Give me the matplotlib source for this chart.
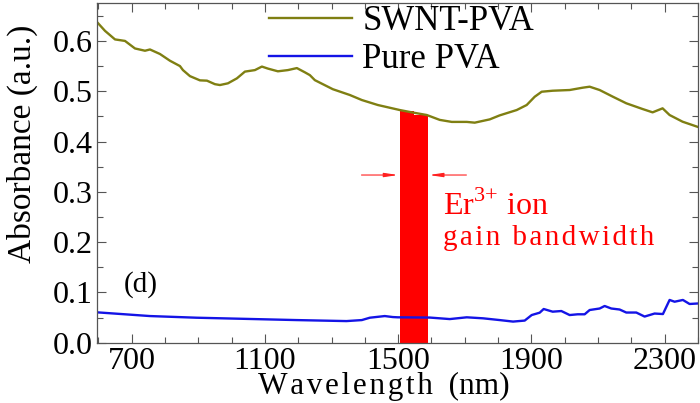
import numpy as np
import matplotlib
matplotlib.use('Agg')
import matplotlib.pyplot as plt
from matplotlib.ticker import MultipleLocator

plt.rcParams['font.family'] = ['Liberation Serif', 'DejaVu Serif']
plt.rcParams['mathtext.fontset'] = 'custom'
plt.rcParams['mathtext.rm'] = 'Liberation Serif'

# SWNT-PVA absorbance
swnt_wl = [598, 620, 650, 680, 710, 740, 755, 785, 815, 845, 854, 875, 905,
           926, 950, 965, 989, 1016, 1040, 1070, 1091, 1109, 1139, 1169, 1196,
           1220, 1235, 1250, 1280, 1304, 1355, 1391, 1439, 1505, 1541, 1586,
           1625, 1661, 1706, 1730, 1775, 1805, 1856, 1886, 1910, 1931, 1964,
           2015, 2054, 2075, 2105, 2145, 2185, 2234, 2264, 2294, 2315, 2354,
           2400]
swnt_abs = [0.636, 0.620, 0.603, 0.600, 0.585, 0.5805, 0.583, 0.574, 0.5606,
            0.550, 0.542, 0.530, 0.5216, 0.521, 0.514, 0.5123, 0.5157, 0.5256,
            0.539, 0.542, 0.549, 0.545, 0.5396, 0.542, 0.546, 0.5376, 0.532,
            0.522, 0.512, 0.504, 0.4925, 0.4825, 0.4726, 0.4626, 0.458,
            0.4527, 0.443, 0.439, 0.439, 0.4375, 0.444, 0.452, 0.4626,
            0.4726, 0.489, 0.499, 0.501, 0.5024, 0.507, 0.509, 0.5024, 0.489,
            0.476, 0.4646, 0.458, 0.466, 0.4527, 0.4394, 0.429]

# pure PVA absorbance
pva_wl = [596, 755, 895, 1195, 1345, 1391, 1415, 1460, 1484, 1499, 1595, 1655,
          1706, 1755, 1805, 1845, 1880, 1901, 1925, 1937, 1964, 1990, 2015,
          2039, 2060, 2075, 2105, 2120, 2140, 2165, 2185, 2215, 2240, 2270,
          2295, 2315, 2330, 2355, 2375, 2400]
pva_abs = [0.0604, 0.053, 0.0497, 0.045, 0.043, 0.045, 0.0497, 0.053, 0.051,
           0.0505, 0.050, 0.047, 0.0505, 0.0485, 0.045, 0.042, 0.044, 0.055,
           0.0597, 0.067, 0.0617, 0.063, 0.055, 0.0565, 0.0565, 0.065, 0.068,
           0.073, 0.068, 0.066, 0.060, 0.060, 0.052, 0.058, 0.057, 0.085,
           0.0815, 0.085, 0.077, 0.078]

# Er3+ gain band (two steps under the curve)
band_left = [1505, 1548]
band_width = [43, 41]
band_top = [0.461, 0.453]

fig = plt.figure(figsize=(7.0, 4.03), dpi=100)
ax = fig.add_axes([0.1386, 0.1496, 0.8584, 0.8437])

ax.bar(band_left, band_top, width=band_width, align='edge', color='#ff0000',
       linewidth=0, zorder=1)
ax.plot(swnt_wl, swnt_abs, color='#7f7f12', lw=1.7, label='SWNT-PVA', zorder=2)
ax.plot(pva_wl, pva_abs, color='#1414e6', lw=1.7, label='Pure PVA', zorder=2)

arrow = dict(arrowstyle='-|>,head_width=0.12,head_length=0.8', color='#ff2020',
             lw=0.8, shrinkA=0, shrinkB=0)
ax.annotate('', xy=(1500, 0.3334), xytext=(1390, 0.3334), arrowprops=arrow)
ax.annotate('', xy=(1593, 0.3334), xytext=(1705, 0.3334), arrowprops=arrow)

hs = '\u200a'
ax.text(1634, 0.254, r'Er$^{3{+}}$ ion', color='#ff0000', fontsize=23,
        va='baseline')
ax.text(1634, 0.194, hs.join('gain bandwidth'), color='#ff0000', fontsize=21,
        va='baseline')
ax.text(675, 0.101, '(d)', fontsize=21, va='baseline')

ax.set_xlim(596, 2400)
ax.set_ylim(0, 0.676)
ax.set_xticks([700, 1100, 1500, 1900, 2300])
ax.xaxis.set_minor_locator(MultipleLocator(100))
ax.yaxis.set_major_locator(MultipleLocator(0.1))
ax.yaxis.set_minor_locator(MultipleLocator(0.05))
ax.yaxis.set_major_formatter(plt.FormatStrFormatter('%.1f'))

ax.tick_params(which='both', direction='in', top=True, right=True,
               labelsize=23, color='#555555')
ax.tick_params(which='major', length=6.5, width=0.8, pad=3)
ax.tick_params(which='minor', length=4, width=0.8)
for s in ax.spines.values():
    s.set_color('#555555')
    s.set_linewidth(0.9)

ax.set_xlabel(hs.join('Wavelength') + '  (nm)', fontsize=22.5, va='baseline')
ax.xaxis.set_label_coords(0.478, -0.1505)
ax.set_ylabel('Absorbance (a.u.)', fontsize=24)
ax.yaxis.set_label_coords(-0.098, 0.585)

ax.legend(loc='upper left', bbox_to_anchor=(0.245, 1.065), frameon=False,
          fontsize=25, handlelength=2.4, handletextpad=0.3, labelspacing=0.15,
          borderpad=0.2)

fig.savefig('out.png', dpi=100)
